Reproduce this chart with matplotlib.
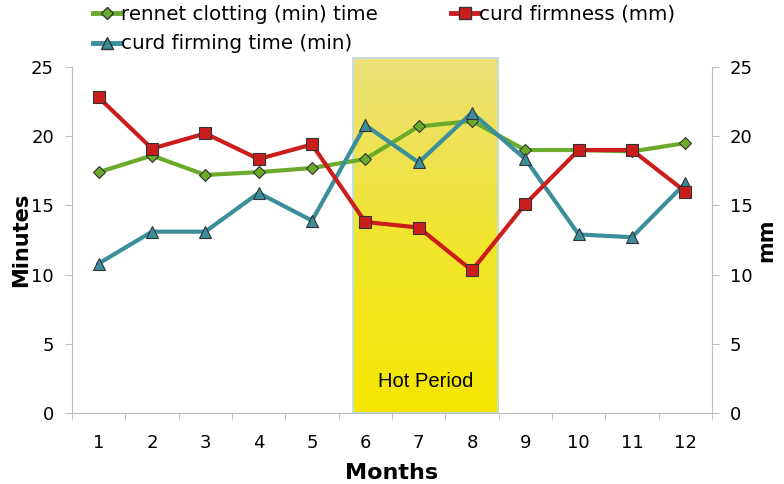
import numpy as np
import matplotlib.pyplot as plt
from matplotlib.lines import Line2D

months = list(range(1, 13))
rennet_clotting = [17.4, 18.6, 17.2, 17.4, 17.7, 18.35, 20.7, 21.1, 19.0, 19.0, 18.9, 19.5]
curd_firmness = [22.8, 19.1, 20.2, 18.35, 19.4, 13.8, 13.4, 10.3, 15.1, 19.0, 19.0, 16.0]
curd_firming_time = [10.8, 13.1, 13.1, 15.9, 13.9, 20.8, 18.1, 21.7, 18.35, 12.9, 12.7, 16.6]

hot_start, hot_end = 5.77, 8.49

green = "#6aab2c"
red = "#cc1d1d"
teal = "#3a8f9b"
grey = "#bdbdbd"

fig = plt.figure(figsize=(7.84, 4.84), dpi=100)
ax = fig.add_axes([0.0918, 0.1467, 0.8163, 0.7149])
ax2 = ax.twinx()

# hot period band with vertical gradient
grad = np.linspace(0, 1, 256).reshape(-1, 1)
cmap = plt.matplotlib.colors.LinearSegmentedColormap.from_list(
    "hot", ["#f5e600", "#f1e530", "#ebe07a"])
ax.imshow(grad, cmap=cmap, aspect="auto", origin="lower",
          extent=[hot_start, hot_end, 0, 25.65], zorder=0, clip_on=False)
ax.add_patch(plt.Rectangle((hot_start, 0), hot_end - hot_start, 25.65,
                           fill=False, edgecolor="#b9dce8", lw=1.2,
                           zorder=1, clip_on=False))
ax.text((hot_start + hot_end) / 2, 2.3, "Hot Period", ha="center",
        va="center", fontsize=14.5, family="Liberation Sans", zorder=2)

ax.plot(months, rennet_clotting, color=green, lw=3, marker="D", ms=6,
        mfc=green, mec="#333333", mew=0.8, zorder=3)
ax.plot(months, curd_firming_time, color=teal, lw=3, marker="^", ms=9,
        mfc=teal, mec="#333333", mew=0.8, zorder=3)
ax.plot(months, curd_firmness, color=red, lw=3, marker="s", ms=9,
        mfc=red, mec="#333333", mew=0.8, zorder=4)

for a in (ax, ax2):
    a.set_ylim(0, 25)
    a.set_yticks(range(0, 26, 5))
    a.tick_params(axis="y", labelsize=13, color=grey, length=5, pad=8)
    for s in a.spines.values():
        s.set_visible(False)
ax.set_xlim(0.5, 12.5)
ax.set_xticks(months)
ax.set_xticks(np.arange(0.5, 13, 1), minor=True)
ax.tick_params(axis="x", which="major", length=0, labelsize=13, pad=15)
ax.tick_params(axis="x", which="minor", length=5, color=grey)
ax.spines["left"].set_visible(True)
ax.spines["left"].set_color(grey)
ax.spines["bottom"].set_visible(True)
ax.spines["bottom"].set_color(grey)
ax2.spines["right"].set_visible(True)
ax2.spines["right"].set_color(grey)

ax.set_ylabel("Minutes", fontsize=15, fontweight="bold", labelpad=0)
ax2.set_ylabel("mm", fontsize=15, fontweight="bold", labelpad=2)
ax.set_xlabel("Months", fontsize=16, fontweight="bold", labelpad=8)
ax.set_zorder(ax2.get_zorder() + 1)
ax.patch.set_visible(False)

handles = [
    Line2D([], [], color=green, lw=3.5, marker="D", ms=6, mfc=green, mec="#333333"),
    Line2D([], [], color=teal, lw=3.5, marker="^", ms=9, mfc=teal, mec="#333333"),
    Line2D([], [], color=red, lw=3.5, marker="s", ms=9, mfc=red, mec="#333333"),
]
labels = ["rennet clotting (min) time", "curd firming time (min)", "curd firmness (mm)"]
fig.legend(handles, labels, ncol=2, loc="upper left", bbox_to_anchor=(0.109, 1.007),
           frameon=False, prop={"size": 14.3},
           handlelength=1.35, handletextpad=0.05, columnspacing=3.7,
           labelspacing=0.55, borderaxespad=0)

fig.savefig("out.png", dpi=100)
